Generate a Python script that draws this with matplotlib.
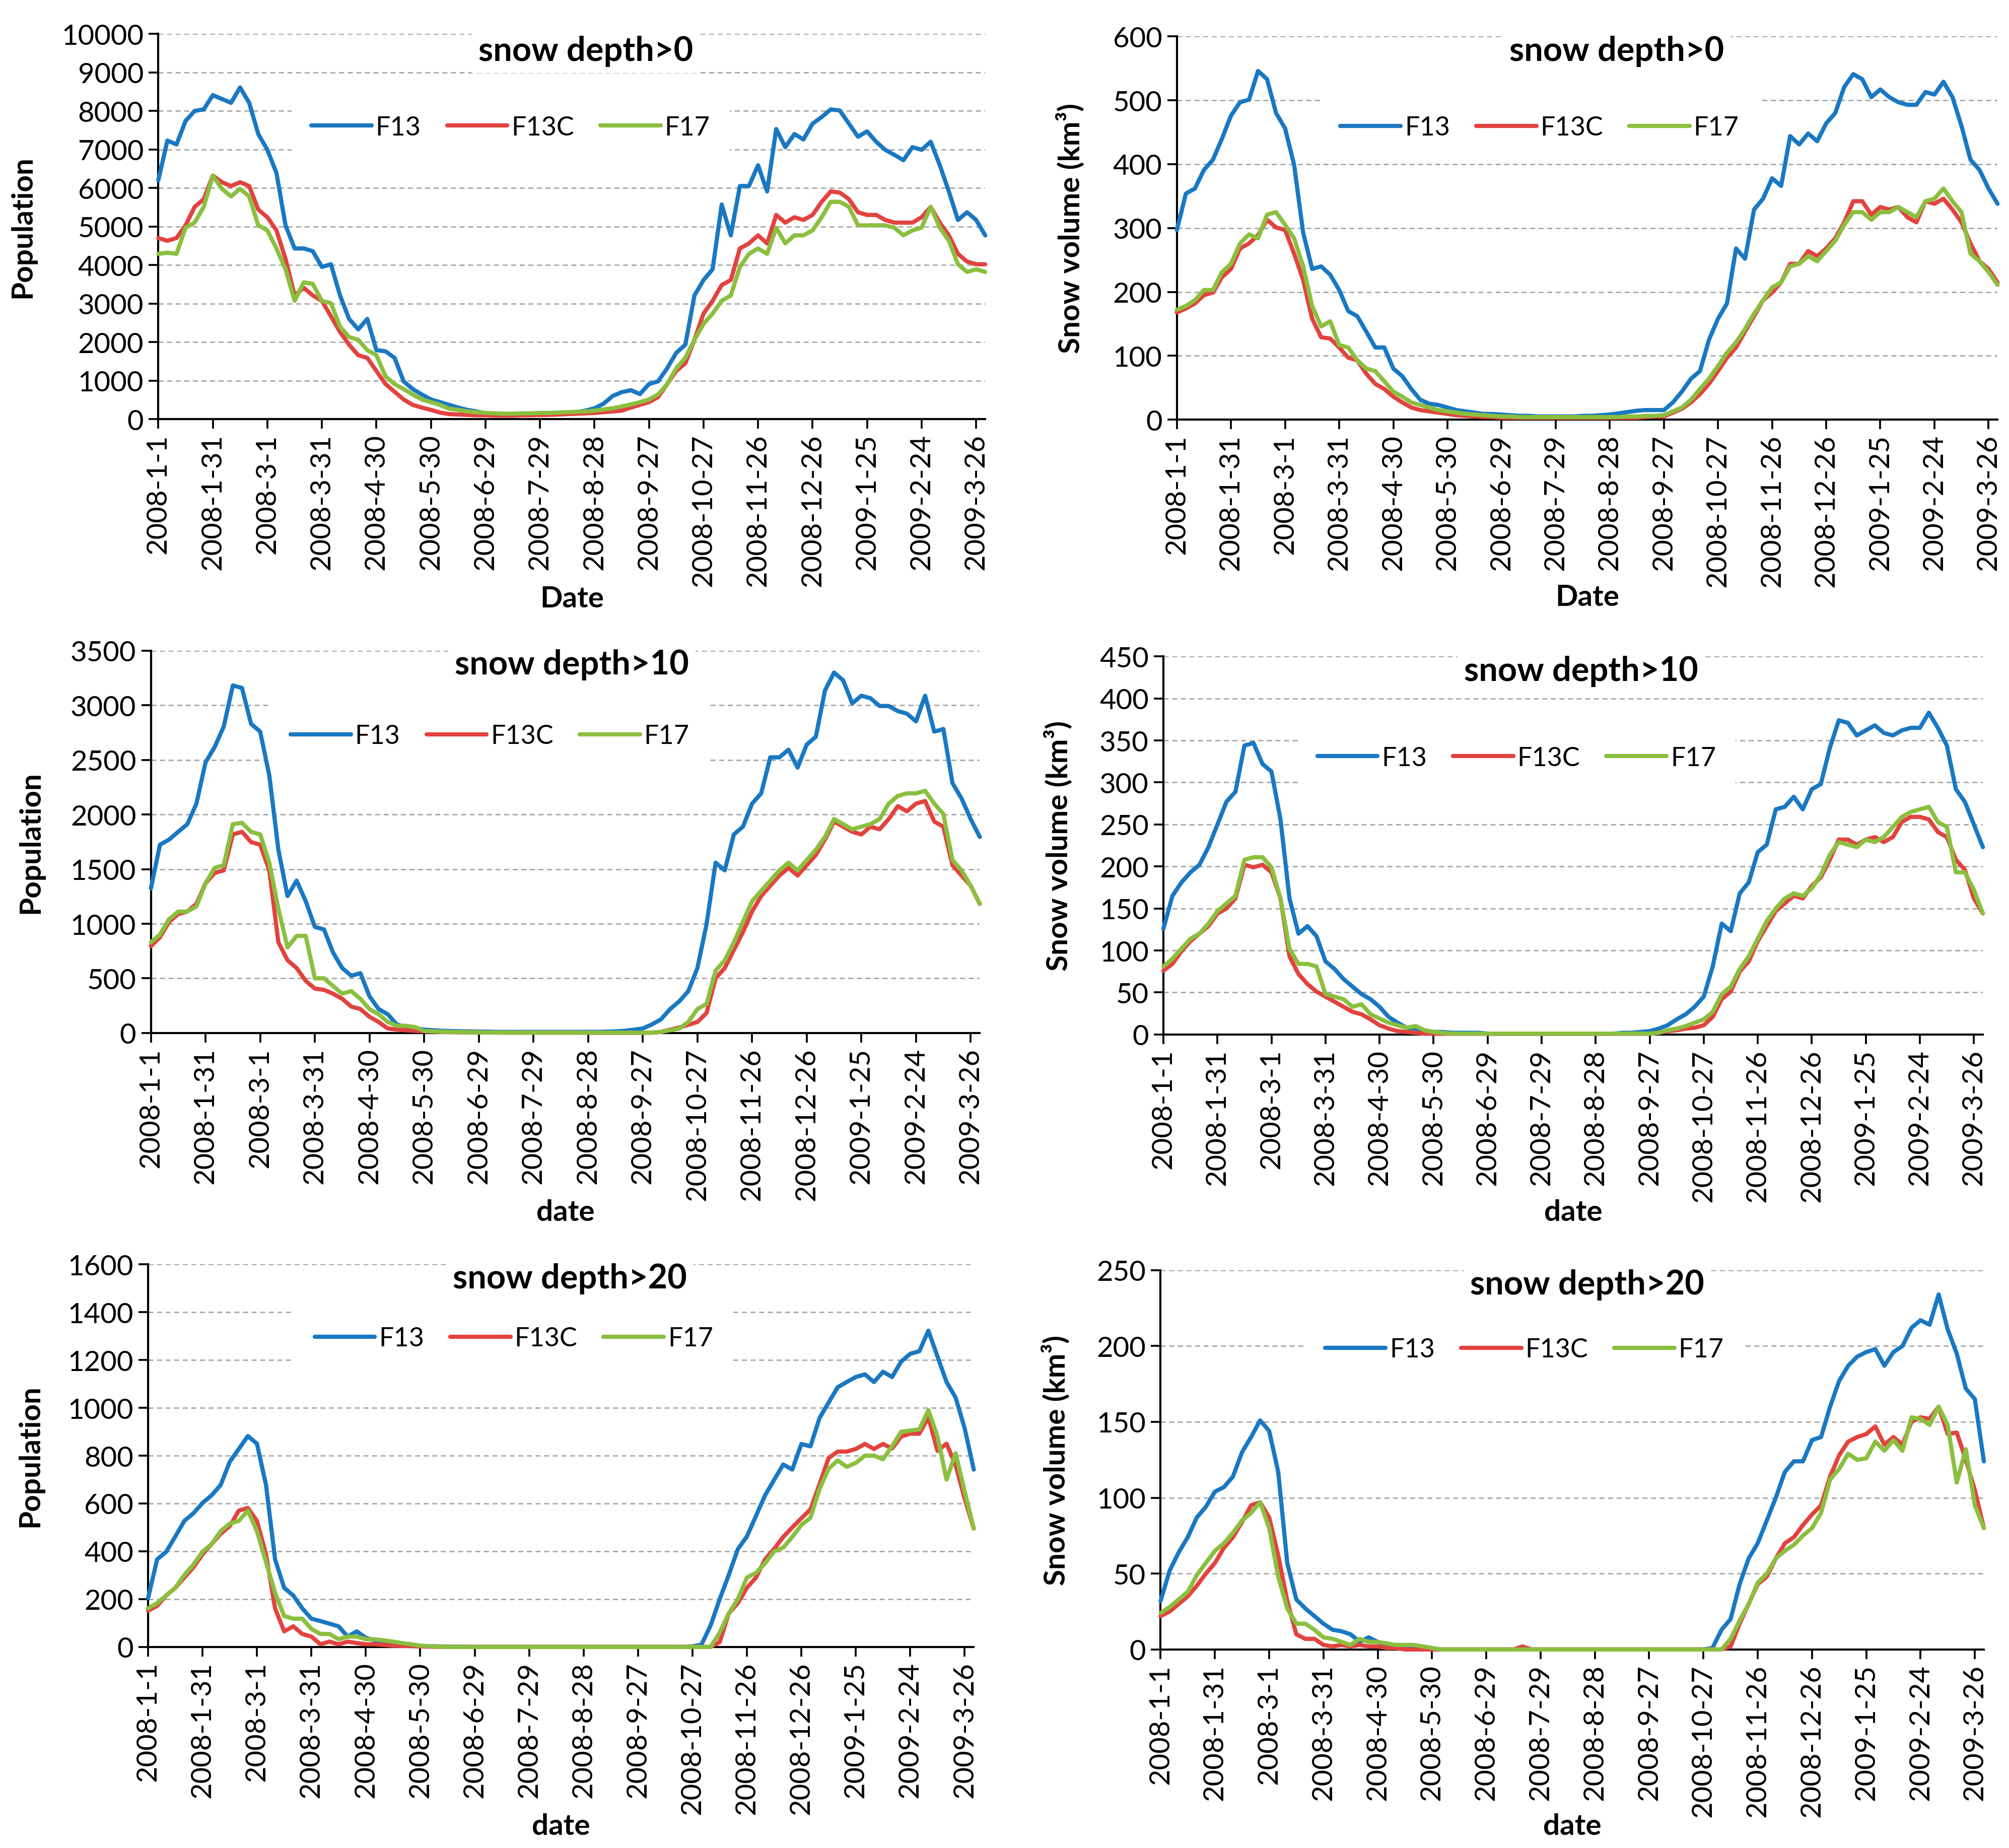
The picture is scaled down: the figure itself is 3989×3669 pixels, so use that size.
import numpy as np
import matplotlib
matplotlib.use("Agg")
import matplotlib.pyplot as plt
from matplotlib.lines import Line2D

plt.rcParams['font.family'] = ['Lato', 'DejaVu Sans']
plt.rcParams['lines.scale_dashes'] = False

# ---------------- data (sampled every 5 days from 2008-1-1) ----------------
days = np.arange(0, 456, 5)
xtick_days = list(range(0, 451, 30))
xtick_labels = ["2008-1-1", "2008-1-31", "2008-3-1", "2008-3-31", "2008-4-30",
                "2008-5-30", "2008-6-29", "2008-7-29", "2008-8-28", "2008-9-27",
                "2008-10-27", "2008-11-26", "2008-12-26", "2009-1-25",
                "2009-2-24", "2009-3-26"]
series_names = ["F13", "F13C", "F17"]

# Panel 1: population, snow depth>0
p1_f13 = [6200, 7230, 7130, 7740, 8000, 8040, 8410, 8310, 8210, 8610,
          8210, 7400, 6990, 6390, 5030, 4430, 4430, 4360, 3950, 4020,
          3210, 2600, 2330, 2600, 1790, 1760, 1590, 980, 780, 640,
          510, 440, 370, 300, 240, 200, 150, 130, 120, 110,
          110, 120, 110, 120, 130, 150, 180, 220, 280, 400,
          600, 700, 750, 650, 910, 980, 1320, 1720, 1930, 3210,
          3610, 3890, 5570, 4770, 6050, 6050, 6590, 5910, 7530, 7060,
          7400, 7260, 7670, 7840, 8040, 8010, 7670, 7330, 7470, 7200,
          6990, 6860, 6720, 7060, 6990, 7200, 6590, 5910, 5170, 5370,
          5170, 4770]
p1_f13c = [4700, 4630, 4700, 5030, 5510, 5710, 6320, 6150, 6050, 6150,
           6050, 5440, 5240, 4900, 4160, 3210, 3410, 3210, 3070, 2670,
           2260, 1930, 1660, 1590, 1250, 910, 710, 510, 370, 300,
           240, 170, 130, 120, 110, 100, 100, 90, 90, 90,
           100, 100, 110, 110, 120, 130, 140, 150, 160, 180,
           200, 220, 300, 370, 440, 570, 910, 1250, 1450, 2060,
           2740, 3070, 3480, 3610, 4430, 4560, 4770, 4560, 5300, 5100,
           5240, 5170, 5300, 5640, 5910, 5880, 5710, 5370, 5300, 5300,
           5170, 5100, 5100, 5100, 5240, 5510, 5100, 4770, 4290, 4090,
           4020, 4020]
p1_f17 = [4290, 4320, 4290, 4970, 5100, 5510, 6320, 5980, 5780, 5980,
          5780, 5030, 4900, 4430, 3890, 3070, 3550, 3510, 3070, 3010,
          2400, 2130, 2060, 1790, 1660, 1110, 910, 780, 640, 510,
          440, 370, 270, 240, 200, 180, 160, 150, 140, 140,
          150, 150, 160, 160, 170, 180, 190, 200, 220, 250,
          280, 330, 380, 440, 510, 640, 910, 1320, 1590, 2060,
          2470, 2740, 3070, 3210, 3950, 4290, 4430, 4290, 4970, 4560,
          4770, 4770, 4900, 5240, 5640, 5640, 5510, 5030, 5030, 5030,
          5030, 4970, 4770, 4900, 4970, 5510, 4970, 4630, 4020, 3820,
          3890, 3820]

# Panel 2: snow volume, snow depth>0
p2_f13 = [297, 354, 362, 391, 407, 440, 476, 497, 501, 546,
          533, 480, 456, 399, 293, 236, 240, 227, 203, 170,
          162, 138, 113, 113, 80, 68, 48, 31, 25, 23,
          19, 15, 13, 11, 9, 9, 8, 7, 6, 6,
          5, 5, 5, 5, 5, 6, 6, 7, 8, 10,
          12, 14, 15, 15, 15, 27, 44, 64, 76, 125,
          158, 182, 268, 252, 329, 346, 378, 366, 444, 431,
          448, 436, 464, 480, 521, 541, 533, 505, 517, 505,
          497, 493, 493, 513, 509, 529, 505, 460, 407, 391,
          362, 338]
p2_f13c = [168, 174, 182, 195, 199, 223, 236, 268, 276, 289,
           313, 301, 297, 260, 219, 158, 129, 127, 113, 97,
           93, 72, 56, 48, 36, 27, 19, 15, 13, 11,
           9, 7, 6, 5, 4, 4, 3, 3, 3, 3,
           3, 3, 3, 3, 3, 3, 3, 3, 3, 3,
           3, 3, 4, 5, 5, 11, 17, 27, 40, 56,
           76, 97, 113, 138, 162, 187, 199, 215, 244, 244,
           264, 256, 268, 284, 309, 342, 342, 321, 333, 329,
           333, 317, 309, 342, 338, 346, 329, 309, 276, 248,
           236, 215]
p2_f17 = [172, 178, 187, 203, 203, 231, 244, 276, 290, 284,
          321, 325, 305, 284, 240, 178, 146, 154, 117, 113,
          93, 80, 76, 60, 44, 36, 27, 23, 19, 15,
          13, 11, 9, 8, 7, 6, 5, 5, 4, 4,
          4, 4, 4, 4, 4, 4, 4, 4, 4, 4,
          5, 5, 6, 6, 7, 13, 19, 31, 48, 64,
          84, 105, 121, 142, 166, 187, 207, 215, 240, 244,
          256, 248, 264, 280, 305, 325, 325, 313, 325, 325,
          333, 325, 317, 342, 346, 362, 342, 325, 260, 248,
          231, 211]

# Panel 3: population, snow depth>10
p3_f13 = [1324, 1724, 1771, 1842, 1912, 2100, 2477, 2618, 2806, 3182,
          3159, 2830, 2759, 2359, 1677, 1254, 1395, 1207, 971, 948,
          736, 595, 524, 548, 336, 219, 172, 78, 54, 42,
          31, 25, 20, 18, 15, 14, 12, 12, 10, 10,
          10, 10, 10, 10, 10, 10, 10, 10, 10, 10,
          12, 15, 20, 30, 42, 78, 125, 219, 289, 383,
          595, 995, 1559, 1489, 1818, 1889, 2100, 2194, 2524, 2524,
          2594, 2430, 2641, 2712, 3135, 3300, 3229, 3018, 3088, 3065,
          2994, 2994, 2947, 2924, 2853, 3088, 2759, 2783, 2288, 2147,
          1959, 1795]
p3_f13c = [795, 877, 1018, 1089, 1112, 1183, 1371, 1465, 1489, 1818,
           1842, 1748, 1724, 1489, 830, 666, 595, 477, 407, 395,
           360, 313, 242, 219, 148, 101, 42, 31, 25, 20,
           15, 12, 10, 8, 6, 5, 5, 4, 4, 3,
           3, 3, 3, 3, 3, 3, 3, 3, 2, 2,
           2, 2, 2, 2, 2, 3, 10, 30, 50, 75,
           101, 183, 501, 595, 760, 924, 1112, 1254, 1348, 1442,
           1512, 1442, 1536, 1630, 1771, 1936, 1889, 1842, 1818, 1889,
           1865, 1959, 2077, 2030, 2100, 2124, 1936, 1889, 1536, 1442,
           1348, 1183]
p3_f17 = [830, 901, 1042, 1112, 1112, 1159, 1371, 1512, 1536, 1912,
          1924, 1842, 1818, 1559, 1136, 783, 889, 889, 501, 501,
          430, 360, 383, 313, 219, 172, 101, 66, 66, 54,
          19, 15, 12, 10, 8, 7, 6, 5, 5, 5,
          5, 4, 4, 4, 4, 4, 4, 4, 3, 3,
          3, 3, 3, 3, 3, 5, 10, 25, 40, 101,
          219, 266, 571, 666, 830, 1018, 1207, 1301, 1395, 1489,
          1559, 1489, 1583, 1677, 1795, 1959, 1912, 1865, 1889, 1912,
          1959, 2100, 2171, 2194, 2194, 2218, 2100, 2006, 1583, 1489,
          1348, 1183]

# Panel 4: snow volume, snow depth>10
p4_f13 = [126, 165, 181, 193, 202, 223, 250, 277, 289, 344,
          347, 322, 313, 256, 162, 120, 129, 117, 87, 78,
          66, 57, 48, 42, 33, 21, 14, 8, 7, 4,
          3, 3, 2, 2, 2, 2, 1, 1, 1, 1,
          1, 1, 1, 1, 1, 1, 1, 1, 1, 1,
          1, 2, 2, 3, 4, 7, 11, 18, 24, 33,
          45, 81, 132, 123, 168, 181, 217, 226, 268, 271,
          283, 268, 292, 298, 341, 374, 371, 356, 362, 368,
          359, 356, 362, 365, 365, 383, 365, 344, 292, 277,
          250, 223]
p4_f13c = [76, 84, 99, 111, 120, 129, 144, 150, 162, 202,
           199, 202, 193, 162, 93, 72, 60, 51, 45, 39,
           33, 27, 24, 18, 11, 7, 4, 3, 2, 1,
           1, 1, 1, 1, 1, 1, 1, 1, 1, 1,
           1, 1, 1, 1, 1, 1, 1, 1, 1, 1,
           1, 1, 1, 1, 1, 2, 4, 5, 7, 8,
           11, 21, 42, 51, 75, 87, 111, 129, 147, 156,
           165, 162, 177, 187, 208, 232, 232, 226, 232, 235,
           229, 235, 253, 259, 259, 256, 241, 235, 208, 196,
           162, 144]
p4_f17 = [81, 90, 102, 114, 120, 132, 147, 156, 165, 208,
          211, 211, 199, 162, 102, 84, 84, 81, 48, 45,
          42, 33, 36, 24, 19, 14, 11, 8, 10, 5,
          3, 2, 1, 1, 1, 1, 1, 1, 1, 1,
          1, 1, 1, 1, 1, 1, 1, 1, 1, 1,
          1, 1, 1, 1, 1, 2, 5, 7, 10, 14,
          18, 27, 48, 57, 78, 93, 114, 135, 150, 162,
          168, 165, 174, 190, 214, 229, 226, 223, 232, 229,
          235, 247, 259, 265, 268, 271, 253, 247, 193, 193,
          172, 144]

# Panel 5: population, snow depth>20
p5_f13 = [204, 366, 398, 462, 527, 559, 602, 634, 677, 774,
          828, 882, 850, 677, 366, 247, 215, 161, 118, 108,
          97, 86, 43, 65, 38, 27, 16, 11, 9, 6,
          4, 3, 2, 1, 1, 1, 0, 0, 0, 0,
          0, 0, 0, 0, 0, 0, 0, 0, 0, 0,
          0, 0, 0, 0, 0, 0, 0, 0, 0, 0,
          2, 10, 90, 200, 301, 409, 462, 548, 634, 699,
          763, 742, 849, 839, 957, 1022, 1086, 1108, 1129, 1140,
          1108, 1151, 1129, 1194, 1226, 1237, 1323, 1215, 1108, 1043,
          914, 742]
p5_f13c = [151, 172, 215, 247, 290, 333, 387, 430, 473, 505,
           570, 581, 527, 387, 161, 65, 86, 54, 43, 11,
           22, 11, 22, 16, 11, 11, 8, 5, 4, 3,
           2, 1, 0, 0, 0, 0, 0, 0, 0, 0,
           0, 0, 0, 0, 0, 0, 0, 0, 0, 0,
           0, 0, 0, 0, 0, 0, 0, 0, 0, 0,
           0, 0, 0, 20, 140, 183, 247, 290, 366, 410,
           460, 500, 538, 575, 680, 790, 817, 817, 828, 849,
           828, 849, 830, 880, 892, 892, 960, 820, 850, 760,
           620, 495]
p5_f17 = [161, 183, 215, 247, 301, 344, 398, 430, 484, 516,
          527, 570, 484, 355, 226, 129, 118, 118, 75, 54,
          54, 32, 43, 43, 32, 32, 27, 22, 16, 11,
          5, 3, 1, 0, 0, 0, 0, 0, 0, 0,
          0, 0, 0, 0, 0, 0, 0, 0, 0, 0,
          0, 0, 0, 0, 0, 0, 0, 0, 0, 0,
          0, 0, 0, 60, 140, 200, 290, 310, 350, 400,
          415, 460, 510, 540, 660, 745, 780, 753, 770, 800,
          800, 785, 840, 900, 905, 910, 990, 880, 700, 810,
          650, 495]

# Panel 6: snow volume, snow depth>20
p6_f13 = [32, 52, 64, 74, 87, 94, 104, 107, 114, 130,
          140, 151, 144, 117, 57, 33, 27, 22, 17, 13,
          12, 10, 5, 8, 5, 3, 2, 1.5, 1, 0.5,
          0, 0, 0, 0, 0, 0, 0, 0, 0, 0,
          0, 0, 0, 0, 0, 0, 0, 0, 0, 0,
          0, 0, 0, 0, 0, 0, 0, 0, 0, 0,
          0, 1, 13, 20, 43, 60, 70, 85, 100, 117,
          124, 124, 138, 140, 160, 177, 187, 193, 196, 198,
          187, 196, 200, 212, 217, 214, 234, 211, 195, 172,
          165, 124]
p6_f13c = [22, 25, 30, 35, 42, 50, 57, 67, 74, 84,
           95, 97, 87, 62, 32, 10, 7, 7, 3, 2,
           3, 2, 3, 2, 2, 1, 1, 0, 0, 0,
           0, 0, 0, 0, 0, 0, 0, 0, 0, 0,
           2, 0, 0, 0, 0, 0, 0, 0, 0, 0,
           0, 0, 0, 0, 0, 0, 0, 0, 0, 0,
           0, 0, 0, 2, 17, 30, 43, 48, 60, 70,
           74, 82, 89, 95, 114, 128, 137, 140, 142, 147,
           135, 140, 135, 150, 153, 152, 160, 142, 143, 125,
           105, 80]
p6_f17 = [24, 28, 33, 38, 49, 57, 65, 70, 77, 85,
          90, 97, 80, 48, 27, 17, 17, 13, 8, 7,
          5, 3, 7, 5, 5, 4, 3, 3, 3, 2,
          1, 0, 0, 0, 0, 0, 0, 0, 0, 0,
          0, 0, 0, 0, 0, 0, 0, 0, 0, 0,
          0, 0, 0, 0, 0, 0, 0, 0, 0, 0,
          0, 0, 0, 7, 19, 30, 44, 50, 60, 65,
          69, 75, 80, 90, 112, 119, 129, 125, 126, 137,
          131, 138, 131, 153, 152, 148, 160, 148, 110, 132,
          95, 80]

# ---------------- style ----------------
colors = ["#1A78C2", "#E2433F", "#8BBF3F"]
LW = 2.0
TICK_FS = 13.5
LEG_FS = 12.5
TITLE_FS = 16
LAB_FS = 14

panels = [
    dict(data=(p1_f13, p1_f13c, p1_f17), ymax=10000, ystep=1000,
         title="snow depth>0", ylabel="Population", xlabel="Date",
         rect=[0.0788, 0.7730, 0.4116, 0.2084], title_xy=(0.517, 0.956),
         leg_xy=(0.426, 0.757), ylab_x=-0.148, xlab_y=-0.431),
    dict(data=(p2_f13, p2_f13c, p2_f17), ymax=600, ystep=100,
         title="snow depth>0", ylabel="Snow volume (km³)", xlabel="Date",
         rect=[0.5858, 0.7727, 0.4085, 0.2073], title_xy=(0.536, 0.963),
         leg_xy=(0.442, 0.762), ylab_x=-0.112, xlab_y=-0.428),
    dict(data=(p3_f13, p3_f13c, p3_f17), ymax=3500, ystep=500,
         title="snow depth>10", ylabel="Population", xlabel="date",
         rect=[0.0751, 0.4409, 0.4126, 0.2068], title_xy=(0.508, 0.964),
         leg_xy=(0.409, 0.776), ylab_x=-0.129, xlab_y=-0.434),
    dict(data=(p4_f13, p4_f13c, p4_f17), ymax=450, ystep=50,
         title="snow depth>10", ylabel="Snow volume (km³)", xlabel="date",
         rect=[0.5791, 0.4401, 0.4079, 0.2045], title_xy=(0.510, 0.962),
         leg_xy=(0.431, 0.731), ylab_x=-0.111, xlab_y=-0.435),
    dict(data=(p5_f13, p5_f13c, p5_f17), ymax=1600, ystep=200,
         title="snow depth>20", ylabel="Population", xlabel="date",
         rect=[0.0737, 0.1088, 0.4110, 0.2069], title_xy=(0.511, 0.964),
         leg_xy=(0.443, 0.806), ylab_x=-0.127, xlab_y=-0.434),
    dict(data=(p6_f13, p6_f13c, p6_f17), ymax=250, ystep=50,
         title="snow depth>20", ylabel="Snow volume (km³)", xlabel="date",
         rect=[0.5777, 0.1074, 0.4098, 0.2052], title_xy=(0.518, 0.962),
         leg_xy=(0.442, 0.790), ylab_x=-0.110, xlab_y=-0.430),
]

fig = plt.figure(figsize=(3989 / 300, 3670 / 300), dpi=300)
fig.patch.set_facecolor("white")

for p in panels:
    ax = fig.add_axes(p["rect"])
    for vals, c in zip(p["data"], colors):
        ax.plot(days, vals, color=c, lw=LW, solid_joinstyle="round",
                solid_capstyle="round", zorder=3, clip_on=False)
    ax.set_xlim(0, 455)
    ax.set_ylim(0, p["ymax"])
    yt = np.arange(0, p["ymax"] + 1, p["ystep"])
    ax.set_yticks(yt)
    ax.set_yticklabels([str(int(v)) for v in yt])
    ax.set_xticks(xtick_days)
    ax.set_xticklabels(xtick_labels, rotation=90)
    ax.yaxis.grid(True, color="#9E9E9E", linewidth=0.6,
                  linestyle=(0, (2.4, 1.7)))
    ax.set_axisbelow(True)
    for s in ("top", "right"):
        ax.spines[s].set_visible(False)
    for s in ("left", "bottom"):
        ax.spines[s].set_linewidth(1.0)
        ax.spines[s].set_color("black")
        ax.spines[s].set_zorder(2.5)
    ax.tick_params(axis="both", direction="out", length=4.5, width=0.9,
                   labelsize=TICK_FS, pad=2.5, colors="black")
    ax.set_ylabel(p["ylabel"], fontsize=LAB_FS, fontweight="bold")
    ax.yaxis.set_label_coords(p["ylab_x"], 0.5)
    ax.set_xlabel(p["xlabel"], fontsize=LAB_FS, fontweight="bold")
    ax.xaxis.set_label_coords(0.5, p["xlab_y"])

    tx, ty = p["title_xy"]
    ax.text(tx, ty, p["title"], transform=ax.transAxes, ha="center",
            va="center", fontsize=TITLE_FS, fontweight="bold", zorder=6,
            bbox=dict(boxstyle="square,pad=0.2", fc="white", ec="none"))

    handles = [Line2D([0], [0], color=c, lw=LW, solid_capstyle="round")
               for c in colors]
    leg = ax.legend(handles, series_names, loc="center",
                    bbox_to_anchor=p["leg_xy"], ncol=3, frameon=True,
                    fancybox=False, framealpha=1, facecolor="white",
                    edgecolor="none", fontsize=LEG_FS, borderpad=0.75,
                    handlelength=2.3, handletextpad=0.15,
                    columnspacing=1.0)
    leg.set_zorder(6)

fig.savefig("out.png", dpi=300, facecolor="white")
